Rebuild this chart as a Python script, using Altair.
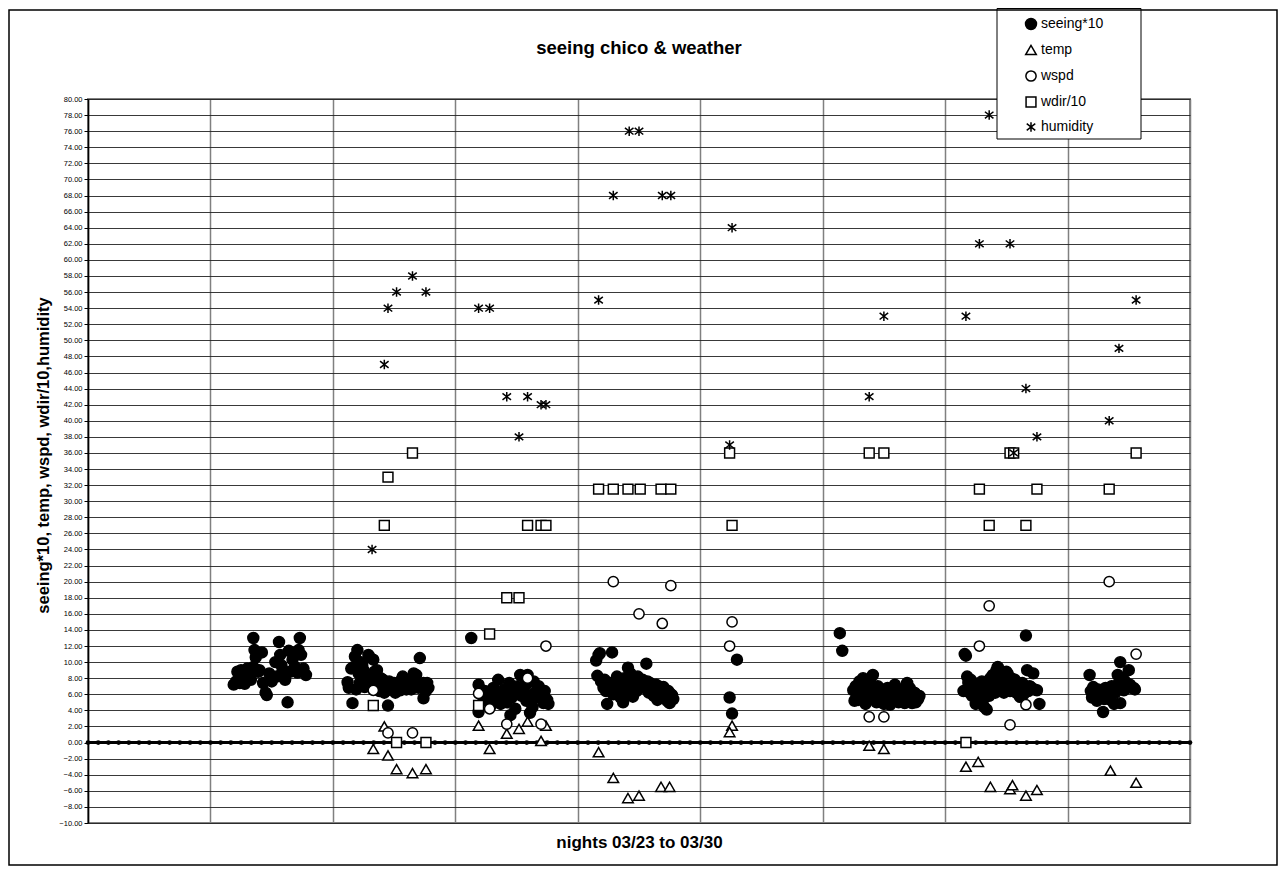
import altair as alt
import pandas as pd

# ---- data (x = night in days from axis start, y = value) ----
seeing = [
    (1.19,7.2),(1.21,7.6),(1.22,8.8),(1.24,7.4),(1.25,9.0),(1.27,8.6),(1.28,7.3),(1.30,9.2),(1.31,8.4),(1.33,7.8),
    (1.35,13.0),(1.35,9.4),(1.36,11.5),(1.37,10.6),(1.39,8.8),(1.40,9.0),(1.42,11.2),(1.43,7.4),(1.45,6.2),(1.46,5.9),
    (1.48,8.6),(1.50,7.6),(1.51,8.0),(1.53,10.0),(1.54,8.2),(1.56,12.5),(1.57,10.9),(1.58,9.6),(1.59,9.0),(1.61,7.8),
    (1.63,5.0),(1.64,11.4),(1.65,8.8),(1.67,10.3),(1.69,9.4),(1.71,8.7),(1.72,11.5),(1.73,13.0),(1.74,10.9),(1.76,9.2),(1.78,8.4),
    (2.12,7.5),(2.13,6.8),(2.15,9.2),(2.16,4.9),(2.17,9.4),(2.18,10.7),(2.19,6.6),(2.20,11.5),(2.21,8.6),(2.22,7.4),
    (2.23,10.0),(2.24,9.6),(2.25,9.0),(2.26,6.9),(2.27,8.2),(2.29,10.9),(2.30,10.6),(2.31,7.8),(2.33,10.3),(2.33,6.9),
    (2.34,8.8),(2.36,9.0),(2.37,7.2),(2.38,6.4),(2.39,8.0),(2.41,7.8),(2.42,6.2),(2.43,7.0),(2.44,6.5),(2.45,4.6),
    (2.46,7.6),(2.48,6.8),(2.49,6.9),(2.50,7.4),(2.51,6.2),(2.53,7.0),(2.55,6.5),(2.56,7.8),(2.57,8.2),(2.58,7.0),
    (2.60,6.6),(2.61,7.4),(2.63,7.8),(2.64,6.6),(2.66,8.6),(2.67,7.2),(2.68,8.4),(2.70,6.8),(2.71,10.5),(2.72,7.0),
    (2.74,5.5),(2.74,7.4),(2.76,6.4),(2.77,7.4),(2.78,6.8),
    (3.13,13.0),(3.19,7.2),(3.19,3.8),(3.22,5.8),(3.24,6.4),(3.26,5.2),(3.28,6.2),(3.29,4.6),(3.30,5.8),(3.31,6.8),
    (3.33,5.4),(3.35,7.8),(3.36,6.0),(3.37,4.8),(3.39,5.7),(3.40,6.6),(3.42,5.0),(3.43,6.2),(3.44,7.4),(3.45,3.4),
    (3.46,5.6),(3.48,6.8),(3.49,4.2),(3.50,6.2),(3.51,7.0),(3.53,8.4),(3.54,5.8),(3.55,6.6),(3.57,7.2),(3.58,5.2),
    (3.59,7.4),(3.59,8.4),(3.61,3.7),(3.62,6.0),(3.63,4.4),(3.64,7.6),(3.66,5.6),(3.67,6.5),(3.68,7.0),(3.70,5.8),
    (3.71,6.2),(3.72,4.9),(3.73,6.4),(3.74,5.4),(3.75,5.3),(3.76,4.8),
    (4.15,10.2),(4.16,8.3),(4.17,10.9),(4.18,11.1),(4.19,7.6),(4.21,6.8),(4.22,7.8),(4.23,6.4),(4.24,4.8),(4.25,7.0),
    (4.26,7.4),(4.27,6.6),(4.28,11.2),(4.29,6.0),(4.30,7.2),(4.32,8.2),(4.33,6.8),(4.34,7.8),(4.35,5.6),(4.36,7.0),
    (4.37,5.0),(4.38,8.0),(4.39,6.6),(4.40,7.4),(4.41,9.3),(4.42,6.2),(4.43,8.6),(4.44,7.6),(4.45,5.7),(4.46,8.0),
    (4.47,7.0),(4.48,6.4),(4.49,8.2),(4.51,7.4),(4.52,6.8),(4.53,7.8),(4.55,7.0),(4.56,9.8),(4.57,7.6),(4.58,6.2),
    (4.59,7.4),(4.61,6.8),(4.62,5.8),(4.63,6.6),(4.64,7.2),(4.65,5.3),(4.66,6.4),(4.68,6.9),(4.69,5.6),(4.70,6.9),
    (4.71,6.2),(4.73,5.2),(4.74,6.4),(4.75,4.9),(4.76,6.0),(4.77,5.9),(4.78,5.4),
    (5.24,5.6),(5.26,3.6),(5.30,10.3),
    (6.14,13.6),(6.16,11.4),(6.25,6.5),(6.26,5.2),(6.27,7.0),(6.28,6.0),(6.29,5.3),(6.30,7.6),(6.31,6.4),(6.32,5.6),
    (6.33,8.0),(6.34,6.8),(6.35,4.8),(6.36,6.9),(6.37,6.0),(6.38,5.4),(6.39,7.4),(6.40,6.2),(6.41,8.4),(6.42,5.8),
    (6.43,6.6),(6.44,5.0),(6.45,7.0),(6.46,6.2),(6.47,5.7),(6.48,6.6),(6.50,4.8),(6.51,6.0),(6.52,5.4),(6.53,6.8),
    (6.54,5.2),(6.55,4.7),(6.56,6.2),(6.57,5.6),(6.59,7.2),(6.60,5.8),(6.61,6.4),(6.62,5.0),(6.64,6.6),(6.65,5.3),
    (6.66,6.0),(6.67,4.9),(6.69,7.4),(6.70,5.6),(6.71,6.8),(6.72,5.3),(6.73,4.9),(6.75,6.2),(6.76,5.0),(6.77,5.9),
    (6.78,5.4),(6.79,5.8),
    (7.15,6.4),(7.16,11.0),(7.17,10.8),(7.18,8.2),(7.19,7.4),(7.20,6.2),(7.21,7.8),(7.22,5.8),(7.23,7.4),(7.24,6.8),
    (7.25,4.8),(7.26,6.0),(7.27,7.0),(7.28,5.4),(7.29,6.4),(7.30,7.6),(7.31,5.3),(7.32,4.4),(7.33,6.6),(7.34,4.1),
    (7.35,7.2),(7.36,5.8),(7.37,8.0),(7.38,6.4),(7.39,8.4),(7.40,7.0),(7.41,6.2),(7.42,9.0),(7.43,9.4),(7.44,7.6),
    (7.45,6.8),(7.46,8.2),(7.47,7.0),(7.48,6.2),(7.49,7.6),(7.50,8.8),(7.51,8.6),(7.52,7.2),(7.53,6.4),(7.54,8.0),
    (7.55,7.4),(7.56,6.9),(7.57,7.8),(7.58,6.2),(7.59,7.0),(7.60,6.6),(7.61,5.7),(7.62,6.8),(7.63,7.4),(7.64,6.0),
    (7.66,13.3),(7.67,9.0),(7.68,6.4),(7.69,7.0),(7.70,6.9),(7.72,8.6),(7.73,6.6),(7.75,6.5),(7.77,4.8),
    (8.18,8.4),(8.19,6.4),(8.20,5.6),(8.21,6.9),(8.22,5.8),(8.23,6.2),(8.24,5.2),(8.25,6.6),(8.26,5.6),(8.27,5.7),
    (8.28,6.2),(8.29,3.8),(8.30,5.4),(8.31,6.8),(8.32,5.6),(8.33,6.4),(8.35,5.3),(8.36,7.0),(8.37,6.9),(8.38,4.8),
    (8.39,6.2),(8.41,8.4),(8.42,7.4),(8.43,10.0),(8.43,4.9),(8.44,7.0),(8.45,8.0),(8.46,6.5),(8.47,7.6),(8.48,6.8),
    (8.50,9.0),(8.51,7.2),(8.52,6.8),(8.54,6.8),(8.55,6.6),
]

temp = [
    (2.33,-0.8),(2.42,2.0),(2.45,-1.6),(2.52,-3.3),(2.65,-3.8),(2.76,-3.3),
    (3.19,2.1),(3.28,-0.8),(3.42,1.1),(3.52,1.7),(3.59,2.6),(3.70,0.2),(3.74,2.1),
    (4.17,-1.2),(4.29,-4.4),(4.41,-6.9),(4.50,-6.6),(4.68,-5.5),(4.75,-5.5),
    (5.26,2.1),(5.24,1.3),
    (6.38,-0.4),(6.50,-0.8),
    (7.17,-3.0),(7.27,-2.4),(7.37,-5.5),(7.53,-5.8),(7.55,-5.3),(7.66,-6.6),(7.75,-5.9),
    (8.35,-3.5),(8.56,-5.0),
]

wspd = [
    (2.33,6.5),(2.45,1.2),(2.65,1.2),
    (3.19,6.1),(3.28,4.2),(3.42,2.3),(3.59,8.0),(3.70,2.3),(3.74,12.0),
    (4.29,20.0),(4.50,16.0),(4.69,14.8),(4.76,19.5),
    (5.26,15.0),(5.24,12.0),
    (6.38,3.2),(6.50,3.2),
    (7.28,12.0),(7.36,17.0),(7.53,2.2),(7.66,4.7),
    (8.34,20.0),(8.56,11.0),
]

wdir = [
    (2.33,4.6),(2.42,27.0),(2.45,33.0),(2.52,0.0),(2.65,36.0),(2.76,0.0),
    (3.19,4.6),(3.28,13.5),(3.42,18.0),(3.52,18.0),(3.59,27.0),(3.70,27.0),(3.74,27.0),
    (4.17,31.5),(4.29,31.5),(4.41,31.5),(4.51,31.5),(4.68,31.5),(4.76,31.5),
    (5.24,36.0),(5.26,27.0),
    (6.38,36.0),(6.50,36.0),
    (7.17,0.0),(7.28,31.5),(7.36,27.0),(7.53,36.0),(7.56,36.0),(7.66,27.0),(7.75,31.5),
    (8.34,31.5),(8.56,36.0),
]

humidity = [
    (2.32,24),(2.42,47),(2.45,54),(2.52,56),(2.65,58),(2.76,56),
    (3.19,54),(3.28,54),(3.42,43),(3.52,38),(3.59,43),(3.70,42),(3.74,42),
    (4.17,55),(4.29,68),(4.42,76),(4.50,76),(4.69,68),(4.76,68),
    (5.26,64),(5.24,37),
    (6.38,43),(6.50,53),
    (7.17,53),(7.28,62),(7.36,78),(7.53,62),(7.56,36),(7.66,44),(7.75,38),
    (8.34,40),(8.42,49),(8.56,55),
]

series_names = ["seeing*10", "temp", "wspd", "wdir/10", "humidity"]
y_ticks = list(range(-10, 81, 2))
night_lines = list(range(0, 10))
zero_marks = [i / 12 for i in range(0, 109)]
chart_title = "seeing chico & weather"

rows = []
for name, pts in zip(series_names, [seeing, temp, wspd, wdir, humidity]):
    for x, y in pts:
        rows.append({"series": name, "x": x, "y": y, "order": len(rows)})
df = pd.DataFrame(rows)
zero_df = pd.DataFrame({"x": zero_marks, "y": [0] * len(zero_marks)})

FONT = "Liberation Sans"
asterisk = "M0,-1L0,1M-0.9,-0.7L0.9,0.7M-0.9,0.7L0.9,-0.7"

xscale = alt.Scale(domain=[0, 9], nice=False, zero=False)
yscale = alt.Scale(domain=[-10, 80], nice=False, zero=False)

x_axis = alt.Axis(values=night_lines, tickCount=20, grid=True, gridColor="#808080", gridWidth=1.5,
                  labels=False, ticks=False, domain=False,
                  title="nights 03/23 to 03/30", titleFont=FONT, titleFontSize=17,
                  titleFontWeight="bold", titleColor="black",
                  titleX=551, titleY=19, titleBaseline="middle", titleAlign="center")
y_axis = alt.Axis(values=y_ticks, tickCount=60, format=".2f", grid=True, gridColor="#222222",
                  gridWidth=0.9, labelOverlap=False, labelFlush=False,
                  labelFont=FONT, labelFontSize=7.5, labelColor="black", labelPadding=2,
                  tickSize=4, tickColor="black", tickWidth=1,
                  domainColor="black", domainWidth=1.5,
                  title="seeing*10, temp, wspd, wdir/10,humidity", titleFont=FONT,
                  titleFontSize=16.5, titleFontWeight="bold", titleColor="black",
                  titleAngle=270, titleX=-45, titleY=356, titleAlign="center",
                  titleBaseline="middle")

legend = alt.Legend(orient="none", legendX=936, legendY=-82, padding=0, title=None,
                    labelFont=FONT, labelFontSize=14, labelColor="black", labelOffset=3,
                    rowPadding=9, symbolStrokeWidth=1.5)

base_axes = alt.Chart(zero_df).mark_point(opacity=0).encode(
    x=alt.X("x:Q", scale=xscale, axis=x_axis),
    y=alt.Y("y:Q", scale=yscale, axis=y_axis),
)

zero_line = alt.Chart(zero_df).mark_rule(color="black", strokeWidth=3).encode(
    y=alt.datum(0, scale=yscale)
)

zero_dots = alt.Chart(zero_df).mark_circle(color="black", opacity=1, size=22).encode(
    x=alt.X("x:Q", scale=xscale),
    y=alt.Y("y:Q", scale=yscale),
)

points = alt.Chart(df).mark_point(strokeWidth=1.5, opacity=1, filled=False).encode(
    x=alt.X("x:Q", scale=xscale),
    y=alt.Y("y:Q", scale=yscale),
    shape=alt.Shape("series:N", legend=legend,
                    scale=alt.Scale(domain=series_names,
                                    range=["circle", "triangle-up", "circle", "square", asterisk])),
    fill=alt.Fill("series:N", legend=legend,
                  scale=alt.Scale(domain=series_names,
                                  range=["black", "white", "white", "white", "white"])),
    stroke=alt.Stroke("series:N", legend=legend,
                      scale=alt.Scale(domain=series_names,
                                      range=["black", "black", "black", "black", "black"])),
    size=alt.Size("series:N", legend=legend,
                  scale=alt.Scale(domain=series_names, range=[120, 90, 64, 81, 110])),
    order=alt.Order("order:Q"),
)

legend_box = alt.Chart(alt.Data(values=[{"k": 1}])).mark_rect(
    fill="white", stroke="black", strokeWidth=1
).encode(x=alt.value(909), x2=alt.value(1053), y=alt.value(-90.5), y2=alt.value(40))

outer_box = alt.Chart(alt.Data(values=[{"k": 1}])).mark_rect(
    fill="transparent", stroke="black", strokeWidth=1.5
).encode(x=alt.value(-79), x2=alt.value(1189), y=alt.value(-89), y2=alt.value(766))

title_text = alt.Chart(alt.Data(values=[{"k": 1}])).mark_text(
    font=FONT, fontSize=18.5, fontWeight="bold", color="black", align="center", baseline="middle"
).encode(x=alt.value(551), y=alt.value(-51), text=alt.value(chart_title))

chart = alt.layer(base_axes, zero_line, zero_dots, points, legend_box, outer_box, title_text).properties(
    width=1102, height=724,
    background="white",
    autosize=alt.AutoSizeParams(type="none"),
    padding={"left": 80, "top": 91, "right": 89, "bottom": 43},
).configure_view(
    stroke="#808080", strokeWidth=2
)

chart.save("out.html", embed_options={"renderer": "svg", "actions": False})
